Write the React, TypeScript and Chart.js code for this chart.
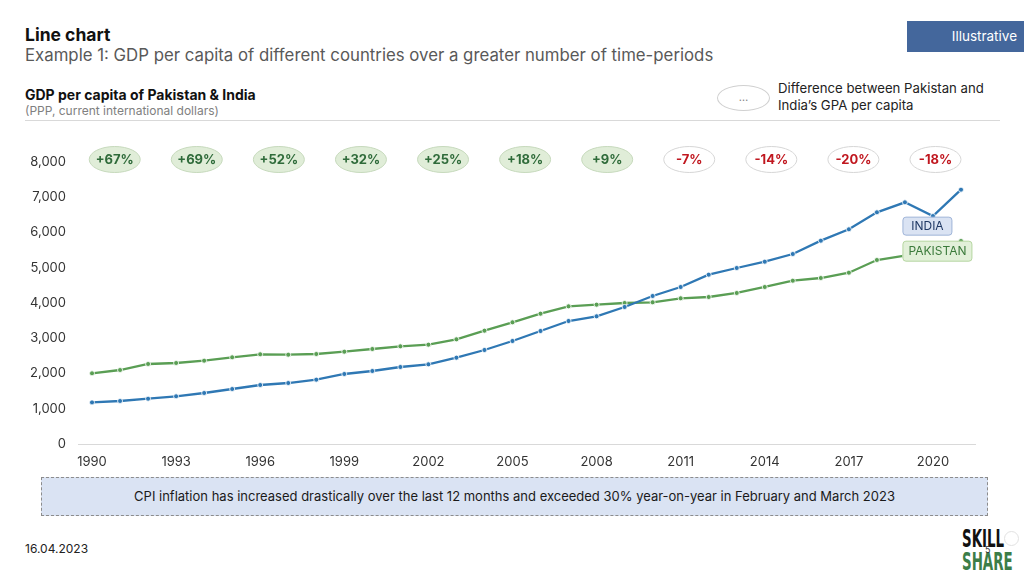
import React, { useEffect, useRef } from 'react';
import { Chart, registerables } from 'chart.js';

Chart.register(...registerables);

const YEARS = ['1990','1991','1992','1993','1994','1995','1996','1997','1998','1999','2000','2001','2002','2003','2004','2005','2006','2007','2008','2009','2010','2011','2012','2013','2014','2015','2016','2017','2018','2019','2020','2021'];
const X_TICK_LABELS = ['1990','1993','1996','1999','2002','2005','2008','2011','2014','2017','2020'];
const INDIA = [1180,1220,1285,1353,1447,1560,1674,1730,1825,1986,2071,2184,2260,2449,2667,2922,3206,3489,3622,3887,4199,4454,4804,4993,5172,5390,5768,6090,6573,6856,6468,7215];
const PAKISTAN = [2005,2099,2270,2298,2364,2459,2544,2534,2553,2619,2695,2771,2818,2969,3215,3452,3697,3905,3953,4000,4020,4133,4170,4284,4454,4633,4709,4860,5220,5342,5390,5760];
const DIFF_LABELS = ['+67%','+69%','+52%','+32%','+25%','+18%','+9%','-7%','-14%','-20%','-18%'];

const BLUE = '#2f78b4';
const GREEN = '#5a9e54';
const FONT = 'Inter, "Noto Sans", sans-serif';

const overlayPlugin = {
  id: 'overlay',
  afterDraw(chart: any) {
    const { ctx, chartArea, scales } = chart;
    const xs = scales.x;
    const ys = scales.y;
    ctx.save();
    // difference badges
    DIFF_LABELS.forEach((lab, i) => {
      const cx = xs.getPixelForValue(0.81 + i * 2.928);
      const cy = chartArea.top - 2.5;
      const pos = lab.startsWith('+');
      ctx.beginPath();
      ctx.ellipse(cx, cy, 25.5, 13, 0, 0, Math.PI * 2);
      ctx.fillStyle = pos ? '#e0edd8' : '#ffffff';
      ctx.fill();
      ctx.lineWidth = 1;
      ctx.strokeStyle = pos ? '#c6d9bc' : '#d6d6d6';
      ctx.stroke();
      ctx.fillStyle = pos ? '#2f6b3a' : '#c0171f';
      ctx.font = `bold 13px ${FONT}`;
      ctx.textAlign = 'center';
      ctx.textBaseline = 'middle';
      ctx.fillText(lab, cx, cy + 0.5);
    });
    // series labels
    const lx = xs.getPixelForValue(29) - 2;
    const drawTag = (text: string, cy: number, w: number, h: number, fill: string, stroke: string, color: string) => {
      ctx.beginPath();
      ctx.roundRect(lx, cy - h / 2, w, h, 3);
      ctx.fillStyle = fill;
      ctx.fill();
      ctx.lineWidth = 1;
      ctx.strokeStyle = stroke;
      ctx.stroke();
      ctx.fillStyle = color;
      ctx.font = `12px ${FONT}`;
      ctx.textAlign = 'center';
      ctx.textBaseline = 'middle';
      ctx.fillText(text, lx + w / 2, cy + 0.5);
    };
    drawTag('INDIA', ys.getPixelForValue(6180), 49, 18, '#dae3f3', '#9fb4d8', '#1f3864');
    drawTag('PAKISTAN', ys.getPixelForValue(5470), 69, 20, '#e2f0d9', '#b5d6a0', '#3b7a3b');
    ctx.restore();
  },
};

function LineChart() {
  const ref = useRef<HTMLCanvasElement | null>(null);
  useEffect(() => {
    if (!ref.current) return;
    const tickFont = { family: FONT, size: 13 };
    const chart = new Chart(ref.current, {
      type: 'line',
      data: {
        labels: YEARS,
        datasets: [
          {
            label: 'India',
            data: INDIA,
            borderColor: BLUE,
            backgroundColor: BLUE,
            borderWidth: 2.3,
            pointRadius: 2.5,
            pointBackgroundColor: BLUE,
            pointBorderColor: '#ffffff',
            pointBorderWidth: 0.8,
            tension: 0,
          },
          {
            label: 'Pakistan',
            data: PAKISTAN,
            borderColor: GREEN,
            backgroundColor: GREEN,
            borderWidth: 2.3,
            pointRadius: 2.5,
            pointBackgroundColor: GREEN,
            pointBorderColor: '#ffffff',
            pointBorderWidth: 0.8,
            tension: 0,
          },
        ],
      },
      options: {
        animation: false,
        responsive: false,
        maintainAspectRatio: false,
        layout: { padding: { top: 32, right: 25, left: 0, bottom: 0 } },
        plugins: { legend: { display: false }, tooltip: { enabled: false } },
        scales: {
          x: {
            type: 'category',
            offset: true,
            grid: { display: false, drawTicks: false },
            border: { display: true, color: '#d9d9d9', width: 1 },
            ticks: {
              autoSkip: false,
              maxRotation: 0,
              minRotation: 0,
              padding: 10,
              color: '#333333',
              font: tickFont,
              callback: (_v: any, idx: number) => (X_TICK_LABELS.includes(YEARS[idx]) ? YEARS[idx] : ''),
            },
            afterFit: (s: any) => { s.height = 26; },
          },
          y: {
            min: 0,
            max: 8000,
            grid: { display: false, drawTicks: false },
            border: { display: false },
            ticks: {
              stepSize: 1000,
              padding: 12,
              color: '#333333',
              font: tickFont,
              callback: (v: any) => Number(v).toLocaleString('en-US'),
            },
            afterFit: (s: any) => { s.width = 78; },
          },
        },
      },
      plugins: [overlayPlugin],
    } as any);
    return () => chart.destroy();
  }, []);
  return <canvas ref={ref} width={1000} height={340} style={{ position: 'absolute', left: 0, top: 130, width: 1000, height: 340 }} />;
}

export default function App() {
  const abs = (o: any) => ({ position: 'absolute' as const, whiteSpace: 'nowrap' as const, lineHeight: 1, fontFamily: FONT, ...o });
  return (
    <div style={{ position: 'fixed', left: 0, top: 0, width: 1024, height: 576, background: '#ffffff', overflow: 'hidden', fontFamily: FONT }}>
      <div style={abs({ left: 25, top: 25.6, fontSize: 17.5, fontWeight: 700, color: '#111' })}>Line chart</div>
      <div style={abs({ left: 25, top: 46.5, fontSize: 16.8, color: '#595959' })}>Example 1: GDP per capita of different countries over a greater number of time-periods</div>
      <div style={abs({ left: 907, top: 21, width: 117, height: 31, background: '#44679c', color: '#fff', fontSize: 13.5, display: 'flex', alignItems: 'center', justifyContent: 'flex-end', paddingRight: 7, boxSizing: 'border-box' })}>Illustrative</div>
      <div style={abs({ left: 25, top: 87.9, fontSize: 14, fontWeight: 700, color: '#111' })}>GDP per capita of Pakistan &amp; India</div>
      <div style={abs({ left: 25, top: 104.6, fontSize: 12, color: '#808080' })}>(PPP, current international dollars)</div>
      <div style={abs({ left: 717, top: 84.5, width: 53, height: 26, border: '1px solid #d0d0d0', borderRadius: '50%', boxSizing: 'border-box', display: 'flex', alignItems: 'center', justifyContent: 'center', fontSize: 11, color: '#888' })}>…</div>
      <div style={abs({ left: 778, top: 81.9, fontSize: 13.2, color: '#222' })}>Difference between Pakistan and</div>
      <div style={abs({ left: 778, top: 98.6, fontSize: 13.2, color: '#222' })}>India’s GPA per capita</div>
      <div style={{ position: 'absolute', left: 25, top: 120, width: 975, height: 1, background: '#d9d9d9' }} />
      <LineChart />
      <div style={abs({ left: 41, top: 477, width: 947, height: 39, background: '#dae3f3', border: '1px dashed #8c8c8c', boxSizing: 'border-box', display: 'flex', alignItems: 'center', justifyContent: 'center', fontSize: 13, color: '#1a1a1a' })}>CPI inflation has increased drastically over the last 12 months and exceeded 30% year-on-year in February and March 2023</div>
      <div style={abs({ left: 25, top: 543, fontSize: 12, color: '#222' })}>16.04.2023</div>
      <div style={abs({ left: 962, top: 527, fontSize: 24, fontWeight: 700, fontFamily: '"DejaVu Sans Condensed", "DejaVu Sans", sans-serif', color: '#111', transform: 'scaleX(0.62)', transformOrigin: 'left top' })}>SKILL</div>
      <div style={abs({ left: 962, top: 549.5, fontSize: 24, fontWeight: 700, fontFamily: '"DejaVu Sans Condensed", "DejaVu Sans", sans-serif', color: '#3c7d48', transform: 'scaleX(0.62)', transformOrigin: 'left top' })}>SHARE</div>
      <div style={{ position: 'absolute', left: 1004, top: 531, width: 15, height: 15, borderRadius: '50%', border: '1.5px solid #e2e2e2', boxSizing: 'border-box' }} />
      <div style={abs({ left: 985, top: 545, fontSize: 9, color: '#333' })}>5</div>
    </div>
  );
}
